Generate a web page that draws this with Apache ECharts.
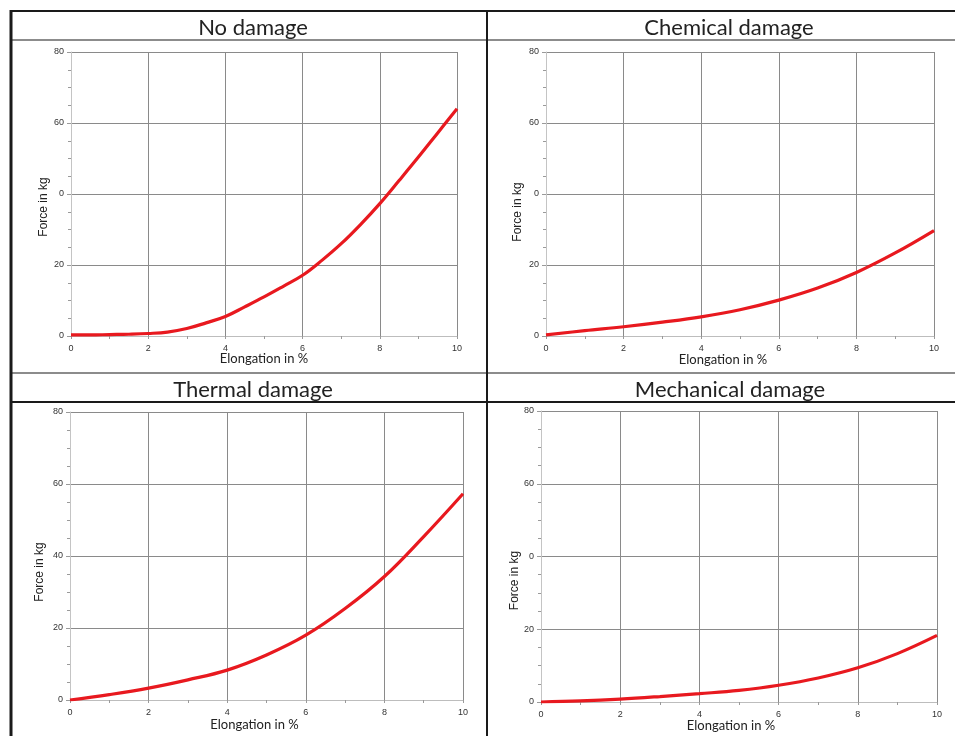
<!DOCTYPE html>
<html><head><meta charset="utf-8">
<script src="https://cdn.jsdelivr.net/npm/echarts@6/dist/echarts.min.js"></script>
<style>html,body{margin:0;padding:0;background:#fff}#c{width:955px;height:736px}</style>
</head><body><div id="c"></div>
<script>
// ---- data ----
const panelTitles = ['No damage', 'Chemical damage', 'Thermal damage', 'Mechanical damage'];
const xAxisName = 'Elongation in %';
const yAxisName = 'Force in kg';
const xTickLabels = ['0', '2', '4', '6', '8', '10'];
// y tick labels, bottom to top (0,20,40,60,80) as printed in each panel
const yTicksNoDamage = ['0', '20', '0', '60', '80'];
const yTicksChemical = ['0', '20', '0', '60', '80'];
const yTicksThermal = ['0', '20', '40', '60', '80'];
const yTicksMechanical = ['0', '20', '0', '60', '80'];

const noDamageX = [0, 0.5, 1, 1.5, 2, 2.5, 3, 3.5, 4, 4.5, 5, 5.5, 6, 6.5, 7, 7.5, 8, 8.5, 9, 9.5, 10];
const noDamageY = [0.3, 0.3, 0.4, 0.5, 0.7, 1.1, 2.1, 3.7, 5.5, 8.2, 11, 14, 17.1, 21.3, 26, 31.4, 37.3, 43.8, 50.4, 57.2, 64];
const elongX = [0, 1, 2, 3, 4, 5, 6, 7, 8, 9, 10];
const chemicalY = [0.3, 1.5, 2.6, 3.9, 5.4, 7.4, 10.1, 13.5, 17.9, 23.4, 29.7];
const thermalY = [0, 1.5, 3.3, 5.6, 8.3, 12.5, 18, 25.4, 34.3, 45.4, 57.3];
const mechanicalY = [0, 0.3, 0.8, 1.5, 2.3, 3.2, 4.6, 6.6, 9.4, 13.3, 18.3];

// ---- layout ----
const panels = [
  { x: noDamageX, y: noDamageY, yTicks: yTicksNoDamage, grid: { left: 71, top: 52, width: 386, height: 284 },
    yGap: 21, yShift: 13, xGap: 11, xPad: [5, 4, 1, 4], xBg: '#fff' },
  { x: elongX, y: chemicalY, yTicks: yTicksChemical, grid: { left: 546, top: 52, width: 388, height: 284 },
    yGap: 22, yShift: 18, xGap: 12, xPad: [5, 44, 1, 10], xBg: '#fff' },
  { x: elongX, y: thermalY, yTicks: yTicksThermal, grid: { left: 70, top: 412, width: 393, height: 288 },
    yGap: 24, yShift: 16, xGap: 18, xPad: [0, 24, 0, 0], xBg: 'transparent' },
  { x: elongX, y: mechanicalY, yTicks: yTicksMechanical, grid: { left: 541, top: 411, width: 396, height: 291 },
    yGap: 20, yShift: 24, xGap: 12, xPad: [5, 24, 1, 8], xBg: '#fff' }
];
const titlePos = [ { left: 248, top: 12 }, { left: 724, top: 12 }, { left: 248, top: 374 }, { left: 725, top: 374 } ];

const grids = [], xAxes = [], yAxes = [], series = [], titles = [];
panels.forEach((p, i) => {
  grids.push(Object.assign({ containLabel: false }, p.grid));
  xAxes.push({
    type: 'value', gridIndex: i, min: 0, max: 10, interval: 2,
    axisLine: { show: true, lineStyle: { color: '#bdbdbd', width: 1 } },
    axisTick: { show: true, length: 3, lineStyle: { color: '#9a9a9a' } },
    minorTick: { show: true, splitNumber: 2, length: 3, lineStyle: { color: '#9a9a9a' } },
    splitLine: { show: true, lineStyle: { color: '#8a8a8a', width: 1 } },
    axisLabel: { fontSize: 9, color: '#333', margin: 8, fontFamily: 'Liberation Sans',
      formatter: v => xTickLabels[Math.round(v / 2)] },
    name: xAxisName, nameLocation: 'middle', nameGap: p.xGap, nameMoveOverlap: false,
    nameTextStyle: { fontFamily: 'Lato', fontSize: 13, color: '#222', backgroundColor: p.xBg, padding: p.xPad }
  });
  yAxes.push({
    type: 'value', gridIndex: i, min: 0, max: 80, interval: 20,
    axisLine: { show: true, lineStyle: { color: '#c4c4c4', width: 1 } },
    axisTick: { show: true, length: 4, lineStyle: { color: '#9a9a9a' } },
    minorTick: { show: true, splitNumber: 4, length: 3, lineStyle: { color: '#9a9a9a' } },
    splitLine: { show: true, lineStyle: { color: '#8a8a8a', width: 1 } },
    axisLabel: { fontSize: 9, color: '#333', margin: 7, fontFamily: 'Liberation Sans',
      formatter: v => p.yTicks[Math.round(v / 20)] },
    name: yAxisName, nameLocation: 'middle', nameGap: p.yGap, nameRotate: 90, nameMoveOverlap: false,
    nameTextStyle: { fontFamily: 'Liberation Sans', fontSize: 12, color: '#222', padding: [0, p.yShift * 2, 0, 0] }
  });
  series.push({
    type: 'line', xAxisIndex: i, yAxisIndex: i, smooth: 0.4, symbol: 'none',
    lineStyle: { color: '#e8191f', width: 3.2 },
    data: p.x.map((xv, k) => [xv, p.y[k]])
  });
  titles.push({ text: panelTitles[i], left: titlePos[i].left, top: titlePos[i].top, textAlign: 'center',
    textStyle: { fontFamily: 'Lato', fontSize: 22, fontWeight: 'normal', color: '#222' } });
});

const L = (x1, y1, x2, y2, w) => ({ type: 'line', z: 100, shape: { x1, y1, x2, y2 }, style: { stroke: '#1a1a1a', lineWidth: w } });
const graphic = [
  L(10, 11, 955, 11, 2),
  L(11, 10, 11, 736, 3),
  L(487, 10, 487, 736, 2),
  L(10, 40, 955, 40, 1.2),
  L(10, 373, 955, 373, 1.2),
  L(10, 402, 955, 402, 2)
];

const chart = echarts.init(document.getElementById('c'), null, { renderer: 'canvas' });
chart.setOption({
  animation: false, backgroundColor: '#fff',
  title: titles, grid: grids, xAxis: xAxes, yAxis: yAxes, series: series, graphic: graphic
});
</script></body></html>
